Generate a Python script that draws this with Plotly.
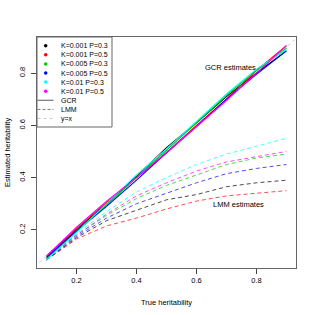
import plotly.graph_objects as go

# ---- data ----
true_h2 = [0.1, 0.2, 0.3, 0.4, 0.5, 0.6, 0.7, 0.8, 0.9]
series_labels = ["K=0.001 P=0.3", "K=0.001 P=0.5", "K=0.005 P=0.3",
                 "K=0.005 P=0.5", "K=0.01 P=0.3", "K=0.01 P=0.5"]
series_colors = ["#000000", "#FF0000", "#00CD00", "#0000FF", "#00FFFF", "#FF00FF"]

gcr_black   = [0.095, 0.200, 0.300, 0.405, 0.515, 0.610, 0.710, 0.800, 0.885]
gcr_red     = [0.100, 0.205, 0.305, 0.400, 0.495, 0.600, 0.700, 0.810, 0.905]
gcr_green   = [0.090, 0.195, 0.295, 0.400, 0.505, 0.610, 0.715, 0.810, 0.895]
gcr_blue    = [0.095, 0.195, 0.290, 0.390, 0.495, 0.595, 0.700, 0.795, 0.885]
gcr_cyan    = [0.085, 0.190, 0.300, 0.410, 0.510, 0.615, 0.720, 0.815, 0.890]
gcr_magenta = [0.100, 0.210, 0.310, 0.400, 0.495, 0.595, 0.695, 0.800, 0.905]

lmm_black   = [0.085, 0.170, 0.235, 0.275, 0.315, 0.335, 0.365, 0.380, 0.390]
lmm_red     = [0.085, 0.165, 0.215, 0.245, 0.280, 0.310, 0.330, 0.340, 0.350]
lmm_green   = [0.090, 0.180, 0.255, 0.320, 0.370, 0.410, 0.450, 0.475, 0.490]
lmm_blue    = [0.085, 0.175, 0.245, 0.300, 0.340, 0.380, 0.415, 0.435, 0.450]
lmm_cyan    = [0.090, 0.185, 0.270, 0.345, 0.400, 0.450, 0.490, 0.520, 0.550]
lmm_magenta = [0.090, 0.180, 0.260, 0.330, 0.380, 0.425, 0.460, 0.480, 0.500]

gcr_series = [gcr_black, gcr_red, gcr_green, gcr_blue, gcr_cyan, gcr_magenta]
lmm_series = [lmm_black, lmm_red, lmm_green, lmm_blue, lmm_cyan, lmm_magenta]

x_ticks = [0.2, 0.4, 0.6, 0.8]
x_tick_labels = ["0.2", "0.4", "0.6", "0.8"]
y_ticks = [0.2, 0.4, 0.6, 0.8]
y_tick_labels = ["0.2", "0.4", "0.6", "0.8"]

line_labels = ["GCR", "LMM", "y=x"]

FONT = "Liberation Sans, Arial, Helvetica, sans-serif"

fig = go.Figure()

# y = x reference
fig.add_trace(go.Scatter(x=[0, 1], y=[0, 1], mode="lines",
                         line=dict(color="#c8c8c8", width=1, dash="dot"),
                         showlegend=False, hoverinfo="skip"))

for vals, col in zip(lmm_series, series_colors):
    fig.add_trace(go.Scatter(x=true_h2, y=vals, mode="lines",
                             line=dict(color=col, width=1, dash="4px,3px"),
                             opacity=0.7, showlegend=False))

for vals, col in zip(gcr_series, series_colors):
    fig.add_trace(go.Scatter(x=true_h2, y=vals, mode="lines",
                             line=dict(color=col, width=1.1),
                             showlegend=False))

# ---- manual legend (drawn on an overlay axis in pixel units) ----
row_y0 = 45.7
row_dy = 9.1
marker_x = 45.7
text_x = 59
seg_x = [37.5, 53.5]
for i, (lab, col) in enumerate(zip(series_labels, series_colors)):
    yy = row_y0 + i * row_dy
    fig.add_trace(go.Scatter(x=[marker_x], y=[yy], mode="markers",
                             marker=dict(color=col, size=3.5),
                             xaxis="x2", yaxis="y2", showlegend=False,
                             hoverinfo="skip"))
    fig.add_annotation(x=text_x, y=yy, xref="x2", yref="y2", text=lab,
                       showarrow=False, xanchor="left", yanchor="middle",
                       font=dict(size=7, family=FONT, color="#000"))
line_styles = [dict(color="#777777", width=1.2),
               dict(color="#777777", width=1, dash="3px,2px"),
               dict(color="#cccccc", width=1, dash="dot")]
for j, (lab, sty) in enumerate(zip(line_labels, line_styles)):
    yy = row_y0 + (6 + j) * row_dy
    fig.add_trace(go.Scatter(x=seg_x, y=[yy, yy], mode="lines", line=sty,
                             xaxis="x2", yaxis="y2", showlegend=False,
                             hoverinfo="skip"))
    fig.add_annotation(x=text_x, y=yy, xref="x2", yref="y2", text=lab,
                       showarrow=False, xanchor="left", yanchor="middle",
                       font=dict(size=7, family=FONT, color="#000"))
fig.add_shape(type="rect", xref="x2", yref="y2", x0=37, x1=112, y0=37, y1=127,
              line=dict(color="#666666", width=1), fillcolor="rgba(0,0,0,0)")

# in-plot labels
fig.add_annotation(x=0.713, y=0.823, text="GCR estimates", showarrow=False,
                   font=dict(size=7.5, family=FONT, color="#000"))
fig.add_annotation(x=0.74, y=0.296, text="LMM estimates", showarrow=False,
                   font=dict(size=7.5, family=FONT, color="#000"))

# axis titles
fig.add_annotation(x=0.5, y=0, xref="paper", yref="paper", yshift=-34,
                   text="True heritability", showarrow=False, yanchor="middle",
                   font=dict(size=7.5, family=FONT, color="#000"))
fig.add_annotation(x=0, y=0.5, xref="paper", yref="paper", xshift=-29.5,
                   text="Estimated heritability", showarrow=False, textangle=-90,
                   xanchor="center", font=dict(size=7.5, family=FONT, color="#000"))

axis_common = dict(showgrid=False, zeroline=False, showline=True, mirror=True,
                   linecolor="#666666", linewidth=1, ticks="outside", ticklen=5,
                   tickcolor="#444444", tickwidth=1,
                   tickfont=dict(size=7.5, family=FONT, color="#000"))

fig.update_layout(
    width=315, height=315,
    margin=dict(l=37, r=19, t=37, b=47),
    paper_bgcolor="white", plot_bgcolor="white",
    showlegend=False,
    hovermode=False,
    xaxis=dict(range=[0.068, 0.932], tickvals=x_ticks, ticktext=x_tick_labels,
               **axis_common),
    yaxis=dict(range=[0.054, 0.938], tickvals=y_ticks, ticktext=y_tick_labels,
               tickangle=-90, ticklabelstandoff=3, **axis_common),
    xaxis2=dict(overlaying="x", range=[37, 296], visible=False),
    yaxis2=dict(overlaying="y", range=[268, 37], visible=False),
)

fig.write_html("out.html", config={"displayModeBar": False},
               post_script="document.body.style.margin='0';")
